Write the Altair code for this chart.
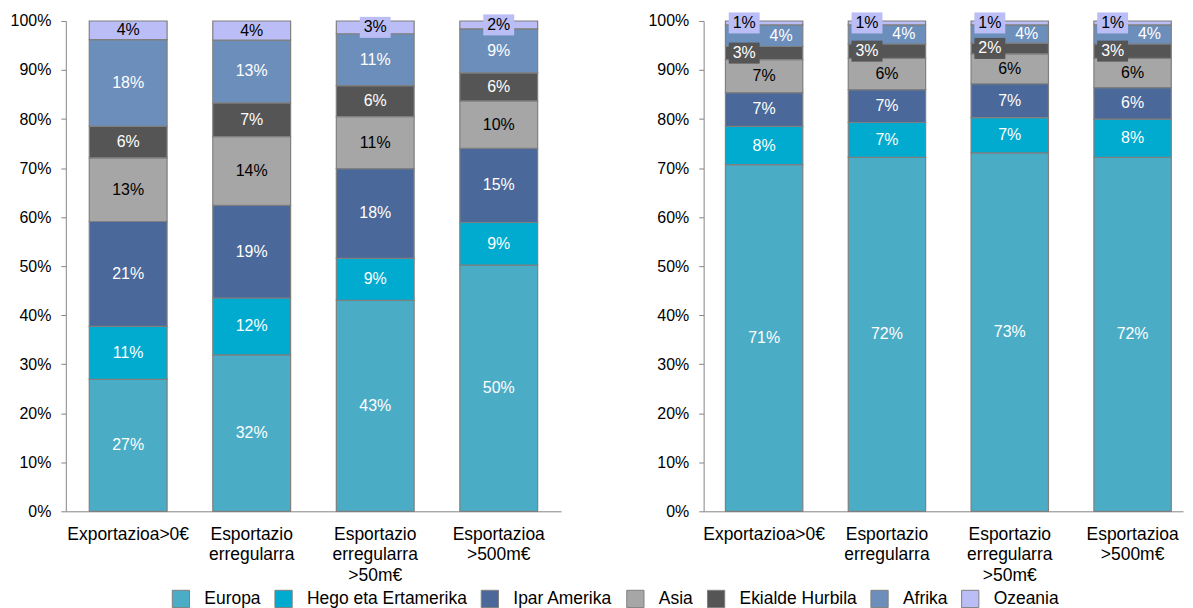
import altair as alt
import pandas as pd

categories = ["Exportazioa>0€", "Esportazio erregularra",
              "Esportazio erregularra >50m€", "Esportazioa >500m€"]
regions = ["Europa", "Hego eta Ertamerika", "Ipar Amerika", "Asia",
           "Ekialde Hurbila", "Afrika", "Ozeania"]
colors = ["#4BACC6", "#00ABCF", "#4A6899", "#A6A6A6", "#555555", "#6C8EBB", "#BBBEF6"]

# Left panel (percent share per category)
left_europa = [26.9, 31.9, 43.0, 50.2]
left_hego = [10.8, 11.6, 8.6, 8.7]
left_ipar = [21.4, 18.9, 18.3, 15.1]
left_asia = [13.0, 14.0, 10.6, 9.7]
left_ekialde = [6.4, 6.9, 6.3, 5.7]
left_afrika = [17.7, 12.8, 10.6, 9.0]
left_ozeania = [3.8, 3.9, 2.6, 1.6]

# Right panel
right_europa = [70.7, 72.2, 73.1, 72.2]
right_hego = [7.8, 7.1, 7.2, 7.8]
right_ipar = [6.9, 6.7, 6.9, 6.4]
right_asia = [6.7, 6.4, 6.1, 6.0]
right_ekialde = [2.7, 2.9, 2.2, 2.9]
right_afrika = [4.4, 3.9, 3.7, 3.9]
right_ozeania = [0.8, 0.8, 0.8, 0.8]

y_ticks = [0, 10, 20, 30, 40, 50, 60, 70, 80, 90, 100]

FONT = "Liberation Sans"
GRAY = "#868686"


def make_df(series):
    rows = []
    for ri, (r, vals) in enumerate(zip(regions, series)):
        for c, v in zip(categories, vals):
            rows.append({"category": c, "region": r, "order": ri, "value": v})
    return pd.DataFrame(rows)


left_df = make_df([left_europa, left_hego, left_ipar, left_asia,
                   left_ekialde, left_afrika, left_ozeania])
right_df = make_df([right_europa, right_hego, right_ipar, right_asia,
                    right_ekialde, right_afrika, right_ozeania])

color_scale = alt.Scale(domain=regions, range=colors)
legend = alt.Legend(
    title=None, orient="none", direction="horizontal", columns=7,
    legendX=106, legendY=570,
    symbolType="square", symbolSize=300, symbolStrokeColor="#808080",
    symbolStrokeWidth=1, symbolOpacity=1,
    labelFont=FONT, labelFontSize=17.5, labelColor="#000000", labelLimit=400,
    labelOffset=14, columnPadding=11,
)

BOX_SHAPE = "M-1,-0.68L1,-0.68L1,0.68L-1,0.68Z"


def panel(df, width, pouter, align, right_side):
    base = alt.Chart(df).transform_stack(
        stack="value", groupby=["category"], as_=["y0", "y1"],
        sort=[alt.SortField("order", order="ascending")],
    ).transform_calculate(
        mid="(datum.y0 + datum.y1) / 2",
        label="format(datum.value, '.0f') + '%'",
        tcol="(datum.region == 'Asia' || datum.region == 'Ozeania') ? '#000000' : '#FFFFFF'",
    )
    x = alt.X(
        "category:N", sort=categories, title=None,
        scale=alt.Scale(paddingInner=0.37, paddingOuter=pouter, align=align),
        axis=alt.Axis(labelAngle=0, ticks=False, tickSize=0, labelPadding=14,
                      labelFont=FONT, labelFontSize=17.5, labelColor="#000000",
                      labelLineHeight=20.5, labelExpr="split(datum.label, ' ')",
                      domainColor=GRAY, domainWidth=1, labelBaseline="top"),
    )
    yscale = alt.Scale(domain=[0, 100], nice=False)
    bars = base.mark_bar(stroke="#7F7F7F", strokeWidth=1.2).encode(
        x=x,
        y=alt.Y("y0:Q", scale=yscale, title=None,
                axis=alt.Axis(values=y_ticks, labelExpr="datum.value + '%'",
                              grid=False, tickSize=5, tickColor=GRAY,
                              domainColor=GRAY, labelPadding=10,
                              labelFont=FONT, labelFontSize=16,
                              labelColor="#000000")),
        y2="y1:Q",
        color=alt.Color("region:N", scale=color_scale, sort=regions, legend=legend),
    )
    ymid = alt.Y("mid:Q", scale=yscale, title=None)
    xc = alt.X("category:N", sort=categories, title=None)
    layers = [bars]

    def text_layer(data, dx=0):
        return data.mark_text(font=FONT, fontSize=16, dx=dx, baseline="middle",
                              align="center").encode(
            x=xc, y=ymid, text="label:N",
            color=alt.Color("tcol:N", scale=None),
        )

    def box_layer(data, fill, xoff=0):
        return data.mark_point(shape=BOX_SHAPE, size=961, filled=True,
                               fill=fill, opacity=1, strokeWidth=0,
                               xOffset=xoff).encode(x=xc, y=ymid)

    if not right_side:
        small_oz = base.transform_filter("datum.region == 'Ozeania' && datum.value < 3")
        layers.append(box_layer(small_oz, colors[6]))
        layers.append(text_layer(base))
    else:
        normal = base.transform_filter(
            "datum.region != 'Ozeania' && datum.region != 'Ekialde Hurbila' && datum.region != 'Afrika'")
        afr = base.transform_filter("datum.region == 'Afrika'")
        oz = base.transform_filter("datum.region == 'Ozeania'")
        ek = base.transform_filter("datum.region == 'Ekialde Hurbila'")
        layers.append(text_layer(normal))
        layers.append(text_layer(afr, dx=17))
        layers.append(box_layer(ek, colors[4], xoff=-20))
        layers.append(box_layer(oz, colors[6], xoff=-20))
        layers.append(text_layer(ek, dx=-20))
        layers.append(text_layer(oz, dx=-20))
    return alt.layer(*layers).properties(width=width, height=492)


left = panel(left_df, 497, 0.19, 0.5, False)
right = panel(right_df, 481, 0.1365, 0.65, True)

chart = alt.hconcat(left, right, spacing=87).properties(
    padding={"left": 2, "top": 3, "right": 2, "bottom": 0}
).configure_view(stroke=None).configure_axis(labelFont=FONT)

chart.save("out.html", embed_options={"renderer": "svg", "actions": False})
